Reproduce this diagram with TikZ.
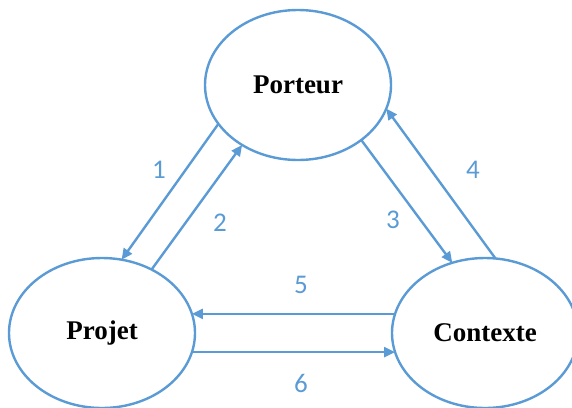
\documentclass[tikz,border=0pt]{standalone}
\usepackage{fontspec}
\setmainfont{Liberation Serif}
\newfontfamily\numfont{Carlito}
\usetikzlibrary{shapes.geometric,arrows.meta}
\definecolor{lblue}{RGB}{91,155,213}
\tikzset{
  bubble/.style={ellipse, draw=lblue, line width=2.4pt, fill=white, inner sep=0pt, outer sep=0pt,
    minimum width=186pt, minimum height=150pt, font=\fontsize{27}{30}\selectfont\bfseries},
  conn/.style={draw=lblue, line width=2.4pt, -{Triangle[length=11pt,width=10pt]}},
  num/.style={text=lblue, font=\numfont\fontsize{27}{30}\selectfont, inner sep=0pt}
}
\begin{document}
\begin{tikzpicture}[x=1pt,y=-1pt]
\useasboundingbox (0,0) rectangle (572,407);
\node[bubble] (P) at (298,85) {Porteur};
\node[bubble] (J) at (102,333) {Projet};
\node[bubble] (C) at (485,333) {Contexte};
\draw[conn] (P.206) -- (J.75);
\draw[conn] (J.52) -- (P.227);
\draw[conn] (P.319) -- (C.115);
\draw[conn] (C.82) -- (P.345);
\draw[conn] (C.168) -- (J.12);
\draw[conn] (J.348) -- (C.192);
\node[num] (n1) at (159,170) {1};
\node[num] (n2) at (220,223) {2};
\node[num] (n3) at (393,220) {3};
\node[num] (n4) at (473,170) {4};
\node[num] (n5) at (301,285) {5};
\node[num] (n6) at (301,383) {6};
\end{tikzpicture}
\end{document}
